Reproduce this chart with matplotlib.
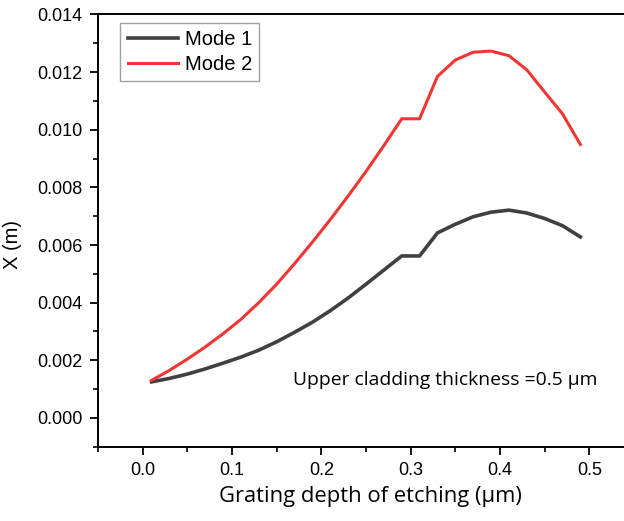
import matplotlib
matplotlib.use("Agg")
import matplotlib.pyplot as plt
from matplotlib.ticker import MultipleLocator

# grating depth of etching (um)
depth = [0.01, 0.03, 0.05, 0.07, 0.09, 0.11, 0.13, 0.15, 0.17, 0.19, 0.21, 0.23, 0.25,
         0.27, 0.29, 0.31, 0.33, 0.35, 0.37, 0.39, 0.41, 0.43, 0.45, 0.47, 0.49]

mode1 = [0.00125, 0.00137, 0.00152, 0.00170, 0.00190, 0.00211, 0.00235, 0.00264, 0.00297,
         0.00332, 0.00372, 0.00416, 0.00464, 0.00513, 0.00562, 0.00562, 0.00642, 0.00672,
         0.00698, 0.00714, 0.00721, 0.00711, 0.00692, 0.00667, 0.00628]

mode2 = [0.00130, 0.00165, 0.00204, 0.00246, 0.00292, 0.00342, 0.00400, 0.00464, 0.00535,
         0.00610, 0.00688, 0.00770, 0.00855, 0.00945, 0.01038, 0.01038, 0.01185, 0.01242,
         0.01269, 0.01273, 0.01257, 0.01208, 0.01131, 0.01055, 0.00949]

plt.rcParams['font.family'] = ['Liberation Sans', 'DejaVu Sans']

fig = plt.figure(figsize=(6.24, 5.21), dpi=100)
# axes run past the right edge, like the cropped original
ax = fig.add_axes([0.157, 0.1426, 0.859, 0.8296])

ax.plot(depth, mode1, color='#404040', lw=2.6, label='Mode 1')
ax.plot(depth, mode2, color='#f03535', lw=2.2, label='Mode 2')

ax.set_xlim(-0.05, 0.55)
ax.set_ylim(-0.001, 0.014)
ax.xaxis.set_major_locator(MultipleLocator(0.1))
ax.xaxis.set_minor_locator(MultipleLocator(0.05))
ax.yaxis.set_major_locator(MultipleLocator(0.002))
ax.yaxis.set_minor_locator(MultipleLocator(0.001))
ax.xaxis.set_major_formatter(lambda v, p: '%.1f' % v)
ax.yaxis.set_major_formatter(lambda v, p: '%.3f' % v)

ax.tick_params(which='major', direction='out', length=6, width=1.3, labelsize=13, pad=5)
ax.tick_params(which='minor', direction='out', length=3.5, width=1.2)
for s in ax.spines.values():
    s.set_linewidth(1.4)

ax.set_xlabel('Grating depth of etching (µm)', family=['Open Sans', 'DejaVu Sans'], fontsize=15.8)
ax.set_ylabel('X (m)', fontsize=14.5)
ax.xaxis.set_label_coords(0.509, -0.09)
ax.yaxis.set_label_coords(-0.142, 0.467)

ax.text(0.168, 0.00133, 'Upper cladding thickness =0.5 µm', family=['Open Sans', 'DejaVu Sans'],
        fontsize=13.9, ha='left', va='center')

leg = ax.legend(loc='upper left', bbox_to_anchor=(0.042, 0.98), fontsize=14.5, fancybox=False,
                edgecolor='#a0a0a0', framealpha=1, borderpad=0.35, handlelength=2.5,
                handletextpad=0.35, labelspacing=0.3, borderaxespad=0)
leg.get_frame().set_linewidth(1.0)

fig.savefig('out.png', dpi=100)
